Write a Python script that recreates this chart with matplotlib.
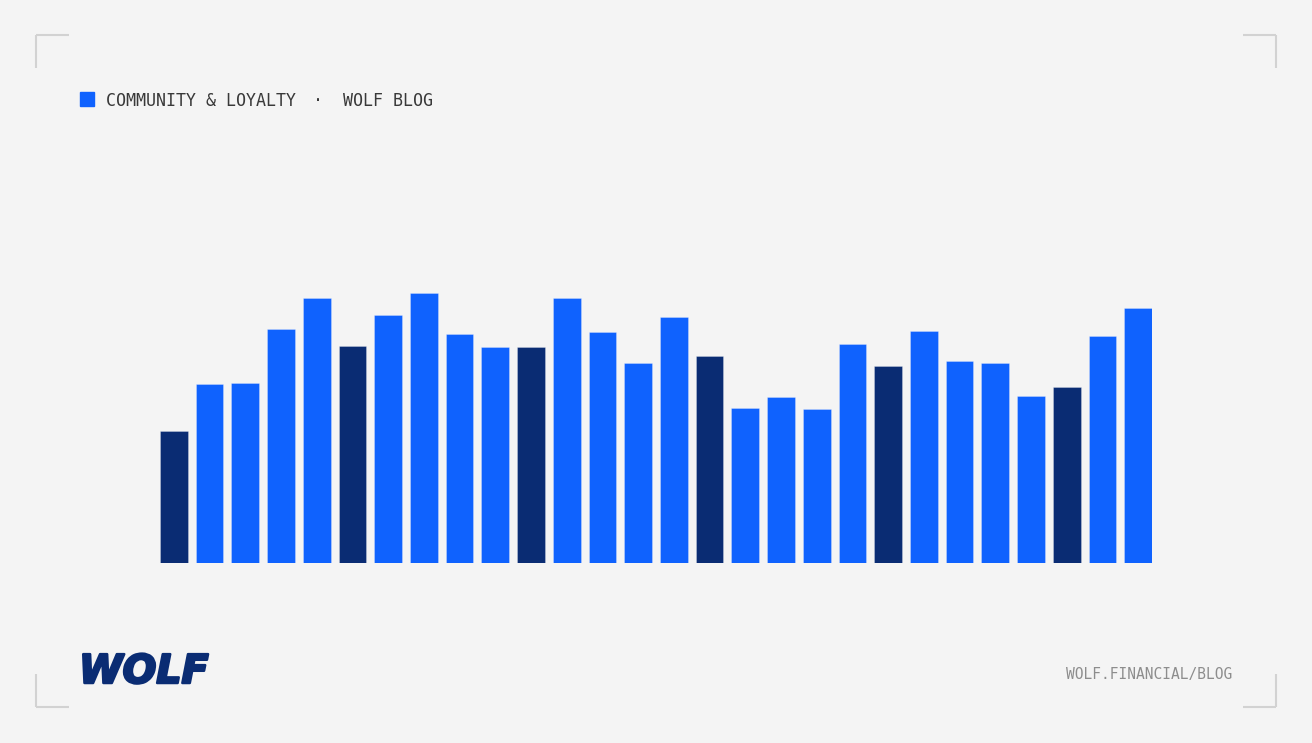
import matplotlib.pyplot as plt
import matplotlib.patheffects as pe
from matplotlib.lines import Line2D
from matplotlib.patches import Rectangle
import numpy as np

W, H = 1312, 743

# bar heights (pixels above baseline)
values = [132, 179, 180, 234, 265, 217, 248, 270, 229, 216, 216, 265, 231, 200,
          246, 207, 155, 166, 154, 219, 197, 232, 202, 200, 167, 176, 227, 255]
highlight = [0, 5, 10, 15, 20, 25]

bright = '#0f62fe'
dark = '#0a2c73'
bg = '#f4f4f4'

title_left = 'COMMUNITY & LOYALTY'
title_sep = '·'
title_right = 'WOLF BLOG'
footer = 'WOLF.FINANCIAL/BLOG'
logo = 'WOLF'


def fx(x):
    return x / W


def fy(y):
    return 1 - y / H


fig = plt.figure(figsize=(W / 100, H / 100), dpi=100)
fig.patch.set_facecolor(bg)

# plot area: bars span x 160..1152, baseline y 563
ax = fig.add_axes([fx(160), fy(563), fx(1152) - fx(160), (563 - 263) / H])
ax.set_facecolor(bg)
n = len(values)
bw = 0.776
colors = [dark if i in highlight else bright for i in range(n)]
ax.bar(np.arange(n), values, width=bw, color=colors,
       edgecolor=(1, 1, 1, 0.3), linewidth=0.6)
ax.set_xlim(-bw / 2, n - 1 + bw / 2)
ax.set_ylim(0, 300)
ax.axis('off')

# corner brackets
gray = '#d2d2d2'
arm = 33
for cx, cy, dx, dy in [(36, 35, 1, 1), (1276, 35, -1, 1),
                       (36, 707, 1, -1), (1276, 707, -1, -1)]:
    fig.add_artist(Line2D([fx(cx), fx(cx + dx * arm)], [fy(cy), fy(cy)],
                          color=gray, lw=1.5, solid_capstyle='butt'))
    fig.add_artist(Line2D([fx(cx), fx(cx)], [fy(cy), fy(cy + dy * arm)],
                          color=gray, lw=1.5, solid_capstyle='butt'))

# header
fig.add_artist(Rectangle((fx(80), fy(106)), 14 / W, 14 / H,
                         color=bright, transform=fig.transFigure))
mono = ['DejaVu Sans Mono']
fig.text(fx(106), fy(101), title_left, family=mono, fontsize=12,
         color='#393939', va='center', ha='left')
fig.text(fx(318), fy(101), title_sep, family=mono, fontsize=12,
         color='#393939', va='center', ha='center')
fig.text(fx(343), fy(101), title_right, family=mono, fontsize=12,
         color='#393939', va='center', ha='left')

# footer
fig.text(fx(1232), fy(675), footer, family=mono, fontsize=10.5,
         color='#8d8d8d', va='center', ha='right')
fig.text(fx(79), fy(672), logo, family=['DejaVu Sans'], fontsize=28.5,
         fontweight='heavy', fontstyle='italic', color=dark,
         va='center', ha='left',
         path_effects=[pe.withStroke(linewidth=1.8, foreground=dark)])

fig.savefig('out.png', dpi=100, facecolor=bg)
